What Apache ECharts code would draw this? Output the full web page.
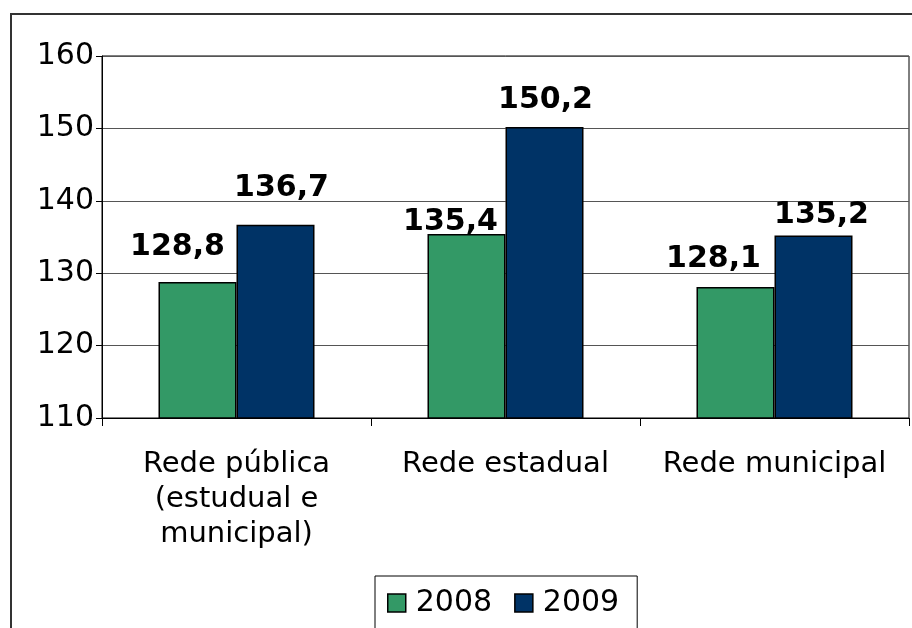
<!DOCTYPE html>
<html>
<head>
<meta charset="utf-8">
<script src="https://cdn.jsdelivr.net/npm/echarts@6/dist/echarts.min.js"></script>
<style>
  html, body { margin: 0; padding: 0; background: #fff; }
  #chart { width: 912px; height: 628px; }
</style>
</head>
<body>
<div id="chart"></div>
<script>
const categories = ['Rede pública\n(estudual e\nmunicipal)', 'Rede estadual', 'Rede municipal']
const years = ['2008', '2009']
const values2008 = [128.8, 135.4, 128.1]
const values2009 = [136.7, 150.2, 135.2]
const colors = ['#339966', '#003366']

// nudges the labels the way the original spreadsheet placed them
const labelShift2008 = [[-20, -20], [-16, 3], [-22, -13]]
const labelShift2009 = [[6, -21], [1, -12], [8, -5]]

const font = 'Verdana, "DejaVu Sans", sans-serif'
const chart = echarts.init(document.getElementById('chart'))

function barSeries(name, values, color, shifts) {
  return {
    name: name,
    type: 'bar',
    data: values.map(function(v, i) {
      return { value: v, label: { offset: shifts[i] } }
    }),
    barGap: 0,
    barCategoryGap: '42%',
    itemStyle: { color: color, borderColor: '#000', borderWidth: 1.5 },
    label: {
      show: true,
      position: 'top',
      distance: 0,
      color: '#000',
      fontFamily: font,
      fontWeight: 'bold',
      fontSize: 30,
      formatter: function(p) {
        return p.value.toFixed(1).replace('.', ',')
      }
    }
  }
}

chart.setOption({
  animation: false,
  graphic: [
    {
      type: 'rect',
      shape: { x: 11, y: 14, width: 920, height: 640 },
      style: { fill: 'none', stroke: '#333', lineWidth: 2 },
      z: -1
    }
  ],
  grid: {
    left: 102,
    right: 3,
    top: 56,
    bottom: 210,
    show: true,
    borderColor: '#000',
    borderWidth: 1
  },
  legend: {
    data: years,
    top: 576,
    left: 375,
    itemWidth: 18,
    itemHeight: 18,
    itemGap: 22,
    icon: 'rect',
    padding: [12, 18, 30, 12],
    borderColor: '#000',
    borderWidth: 1,
    textStyle: { fontFamily: font, fontSize: 30, color: '#000', padding: [0, 0, 0, 5] },
    itemStyle: { borderColor: '#000', borderWidth: 1.5 }
  },
  xAxis: {
    type: 'category',
    data: categories,
    axisLine: { lineStyle: { color: '#000' } },
    axisTick: { show: true, interval: 0, length: 8, lineStyle: { color: '#000' } },
    axisLabel: {
      interval: 0,
      hideOverlap: false,
      color: '#000',
      fontFamily: font,
      fontSize: 29,
      lineHeight: 35,
      margin: 29
    }
  },
  yAxis: {
    type: 'value',
    min: 110,
    max: 160,
    interval: 10,
    axisLine: { show: true, lineStyle: { color: '#000' } },
    axisTick: { show: true, length: 6, lineStyle: { color: '#000' } },
    axisLabel: {
      color: '#000',
      fontFamily: font,
      fontSize: 30,
      margin: 8
    },
    splitLine: { lineStyle: { color: '#555', width: 1 } }
  },
  series: [
    barSeries(years[0], values2008, colors[0], labelShift2008),
    barSeries(years[1], values2009, colors[1], labelShift2009)
  ]
})
</script>
</body>
</html>
